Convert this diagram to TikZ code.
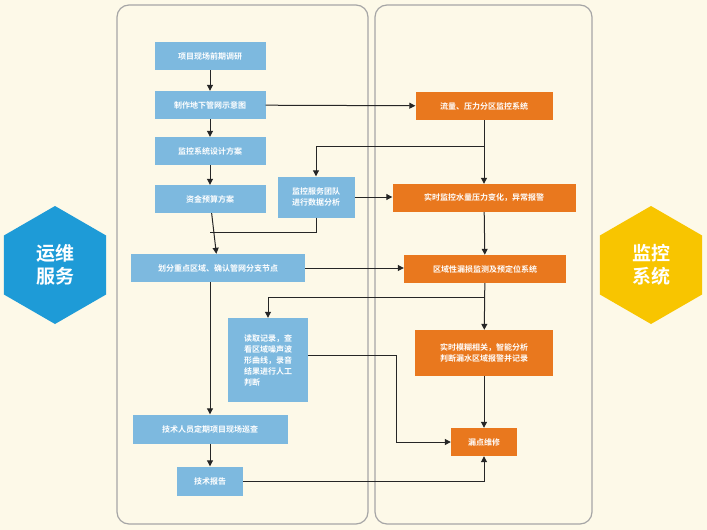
\documentclass[tikz,border=0pt]{standalone}
\usepackage{fontspec}
\newfontfamily\cjk{Noto Sans CJK SC}[BoldFont={Noto Sans CJK SC Bold}]
\usetikzlibrary{shapes.geometric,arrows.meta}
\definecolor{bg}{HTML}{FDF9E8}
\definecolor{bl}{HTML}{7DB9DF}
\definecolor{og}{HTML}{E9781E}
\definecolor{hexb}{HTML}{1E9BD7}
\definecolor{hexy}{HTML}{F8C500}
\begin{document}
\begin{tikzpicture}[x=1pt,y=-1pt,
  box/.style={fill=bl,text=white,font=\cjk\bfseries\fontsize{8}{11}\selectfont,inner sep=0pt,align=center},
  obox/.style={box,fill=og},
  ar/.style={draw=black!85,line width=1pt,-{Triangle[length=6pt,width=6pt]}},
  ln/.style={draw=black!85,line width=1pt},
  hex/.style={regular polygon,regular polygon sides=6,shape border rotate=90,minimum size=118pt,inner sep=0pt,text=white,font=\cjk\bfseries\fontsize{19}{23}\selectfont,align=center}]
\fill[bg] (0,0) rectangle (707,530);
\useasboundingbox (0,0) rectangle (707,530);
\draw[gray!70,line width=1.2pt,rounded corners=12pt] (117,5) rectangle (368,524);
\draw[gray!70,line width=1.2pt,rounded corners=12pt] (375,5) rectangle (592,524);
\node[hex,fill=hexb] (h1) at (55,265) {运维\\服务};
\node[hex,fill=hexy] (h2) at (651,265) {监控\\系统};
\node[box,minimum width=111pt,minimum height=28pt] (b1) at (210,56) {项目现场前期调研};
\node[box,minimum width=111pt,minimum height=28pt] (b2) at (210,105) {制作地下管网示意图};
\node[box,minimum width=111pt,minimum height=28pt] (b3) at (210,151) {监控系统设计方案};
\node[box,minimum width=111pt,minimum height=28pt] (b4) at (210,199) {资金预算方案};
\node[box,minimum width=77pt,minimum height=41pt] (b5) at (316,197) {监控服务团队\\进行数据分析};
\node[box,minimum width=174pt,minimum height=28pt] (b6) at (218,268) {划分重点区域、确认管网分支节点};
\node[box,minimum width=80pt,minimum height=84pt,align=left] (b7) at (268,360) {读取记录，查\\看区域噪声波\\形曲线，录音\\结果进行人工\\判断};
\node[box,minimum width=155pt,minimum height=29pt] (b8) at (210,429) {技术人员定期项目现场巡查};
\node[box,minimum width=66pt,minimum height=29pt] (b9) at (210,481) {技术报告};
\node[obox,minimum width=137pt,minimum height=28pt] (o1) at (484,106) {流量、压力分区监控系统};
\node[obox,minimum width=183pt,minimum height=28pt] (o2) at (484,198) {实时监控水量压力变化，异常报警};
\node[obox,minimum width=162pt,minimum height=28pt] (o3) at (485,269) {区域性漏损监测及预定位系统};
\node[obox,minimum width=138pt,minimum height=46pt] (o4) at (484,353) {实时模糊相关，智能分析\\判断漏水区域报警并记录};
\node[obox,minimum width=66pt,minimum height=28pt] (o5) at (484,442) {漏点维修};
\coordinate (c1) at (484,146);
\coordinate (c2) at (484,297);
\draw[ar] (b1) -- (b2);
\draw[ar] (b2) -- (b3);
\draw[ar] (b3) -- (b4);
\draw[ar] (b2) -- (o1);
\draw[ar] (o1) -- (o2);
\draw[ar] (c1) -| (b5);
\draw[ar] (b5) -- (b5-|o2.west);
\draw[ln] (b5.south) |- (210,232);
\draw[ar] (b4) -- (b6);
\draw[ar] (b6) -- (b6-|o3.west);
\draw[ar] (o2) -- (o3);
\draw[ar] (o3) -- (o4);
\draw[ar] (c2) -| (b7);
\draw[ar] (b6.south-|b8) -- (b8);
\draw[ar] (b8) -- (b9);
\draw[ar] (b7.east|-0,355) -- (396,355) |- (o5.west);
\draw[ar] (o4) -- (o5);
\draw[ar] (b9) -| (o5);
\end{tikzpicture}
\end{document}
